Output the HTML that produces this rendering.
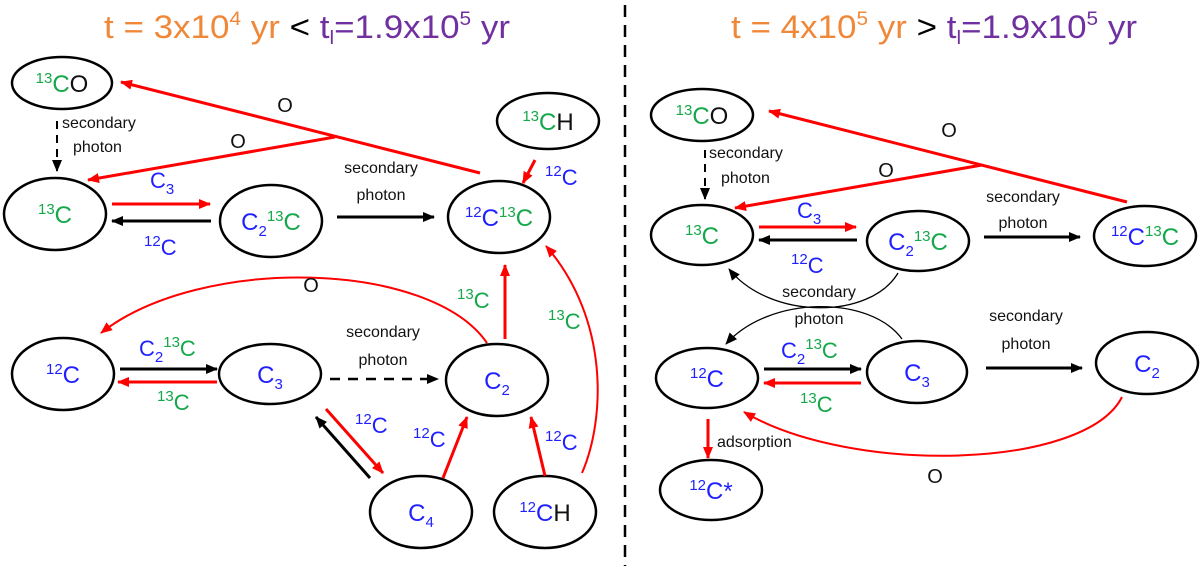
<!DOCTYPE html>
<html><head><meta charset="utf-8"><style>
html,body{margin:0;padding:0;background:#fff;}
svg{display:block;font-family:"Liberation Sans",sans-serif;}
.n{fill:none;stroke:#000;stroke-width:2.5}
.b{fill:#1f1fff}.g{fill:#14a84a}.k{fill:#111}
.lab{font-size:16px;fill:#111}
.nt{font-size:24px}
</style></head><body>
<svg width="1200" height="571" viewBox="0 0 1200 571" xmlns="http://www.w3.org/2000/svg">
<defs>
<marker id="ak" markerUnits="userSpaceOnUse" markerWidth="12" markerHeight="10" refX="11" refY="5" orient="auto"><path d="M0,0 L12,5 L0,10 Z" fill="#000"/></marker>
<marker id="ar" markerUnits="userSpaceOnUse" markerWidth="12" markerHeight="10" refX="11" refY="5" orient="auto"><path d="M0,0 L12,5 L0,10 Z" fill="#f00"/></marker>
</defs>

<!-- divider -->
<line x1="625" y1="5" x2="625" y2="566" stroke="#000" stroke-width="2.5" stroke-dasharray="12,8"/>

<!-- titles -->
<text x="104" y="38" font-size="32" textLength="406" lengthAdjust="spacingAndGlyphs"><tspan fill="#f0883a">t = 3x10</tspan><tspan fill="#f0883a" font-size="19" dy="-13">4</tspan><tspan fill="#f0883a" dy="13"> yr</tspan><tspan fill="#000"> &lt; </tspan><tspan fill="#7030a0">t</tspan><tspan fill="#7030a0" font-size="19" dy="6">l</tspan><tspan fill="#7030a0" dy="-6">=1.9x10</tspan><tspan fill="#7030a0" font-size="19" dy="-13">5</tspan><tspan fill="#7030a0" dy="13"> yr</tspan></text>
<text x="731" y="38" font-size="32" textLength="406" lengthAdjust="spacingAndGlyphs"><tspan fill="#f0883a">t = 4x10</tspan><tspan fill="#f0883a" font-size="19" dy="-13">5</tspan><tspan fill="#f0883a" dy="13"> yr</tspan><tspan fill="#000"> &gt; </tspan><tspan fill="#7030a0">t</tspan><tspan fill="#7030a0" font-size="19" dy="6">l</tspan><tspan fill="#7030a0" dy="-6">=1.9x10</tspan><tspan fill="#7030a0" font-size="19" dy="-13">5</tspan><tspan fill="#7030a0" dy="13"> yr</tspan></text>

<!-- ===== LEFT PANEL ===== -->
<ellipse class="n" cx="62" cy="83" rx="50" ry="26"/>
<ellipse class="n" cx="55" cy="214" rx="51" ry="36"/>
<ellipse class="n" cx="271" cy="221" rx="51" ry="36"/>
<ellipse class="n" cx="548" cy="121" rx="51" ry="28"/>
<ellipse class="n" cx="499" cy="217" rx="51" ry="36"/>
<ellipse class="n" cx="63" cy="374" rx="51" ry="36"/>
<ellipse class="n" cx="270" cy="374" rx="51" ry="30"/>
<ellipse class="n" cx="497" cy="380" rx="51" ry="36"/>
<ellipse class="n" cx="421" cy="512" rx="51" ry="36"/>
<ellipse class="n" cx="545" cy="512" rx="51" ry="36"/>

<text class="nt" x="62" y="92" text-anchor="middle"><tspan class="g" font-size="15" dy="-9">13</tspan><tspan class="g" dy="9">C</tspan><tspan class="k">O</tspan></text>
<text class="nt" x="55" y="223" text-anchor="middle"><tspan class="g" font-size="15" dy="-9">13</tspan><tspan class="g" dy="9">C</tspan></text>
<text class="nt" x="271" y="230" text-anchor="middle"><tspan class="b">C</tspan><tspan class="b" font-size="15" dy="6">2</tspan><tspan class="g" font-size="15" dy="-15">13</tspan><tspan class="g" dy="9">C</tspan></text>
<text class="nt" x="548" y="130" text-anchor="middle"><tspan class="g" font-size="15" dy="-9">13</tspan><tspan class="g" dy="9">C</tspan><tspan class="k">H</tspan></text>
<text class="nt" x="499" y="226" text-anchor="middle"><tspan class="b" font-size="15" dy="-9">12</tspan><tspan class="b" dy="9">C</tspan><tspan class="g" font-size="15" dy="-9">13</tspan><tspan class="g" dy="9">C</tspan></text>
<text class="nt" x="63" y="383" text-anchor="middle"><tspan class="b" font-size="15" dy="-9">12</tspan><tspan class="b" dy="9">C</tspan></text>
<text class="nt" x="270" y="383" text-anchor="middle"><tspan class="b">C</tspan><tspan class="b" font-size="15" dy="6">3</tspan></text>
<text class="nt" x="497" y="389" text-anchor="middle"><tspan class="b">C</tspan><tspan class="b" font-size="15" dy="6">2</tspan></text>
<text class="nt" x="421" y="521" text-anchor="middle"><tspan class="b">C</tspan><tspan class="b" font-size="15" dy="6">4</tspan></text>
<text class="nt" x="545" y="521" text-anchor="middle"><tspan class="b" font-size="15" dy="-9">12</tspan><tspan class="b" dy="9">C</tspan><tspan class="k">H</tspan></text>

<!-- left edges -->
<line x1="480" y1="173" x2="121" y2="82" stroke="#f00" stroke-width="3" marker-end="url(#ar)"/>
<line x1="335" y1="137" x2="88" y2="180" stroke="#f00" stroke-width="3" marker-end="url(#ar)"/>
<text x="285" y="112" font-size="20" text-anchor="middle" class="k">O</text>
<text x="238" y="148" font-size="20" text-anchor="middle" class="k">O</text>
<line x1="57" y1="121" x2="57" y2="171" stroke="#000" stroke-width="2" stroke-dasharray="8,6" marker-end="url(#ak)"/>
<text class="lab" x="62" y="128" font-size="15">secondary</text>
<text class="lab" x="73" y="152" font-size="15">photon</text>
<line x1="112" y1="204" x2="210" y2="204" stroke="#f00" stroke-width="3" marker-end="url(#ar)"/>
<text x="150" y="188" font-size="22" class="b">C<tspan font-size="15" dy="6">3</tspan></text>
<line x1="211" y1="221" x2="112" y2="221" stroke="#000" stroke-width="3" marker-end="url(#ak)"/>
<text x="144" y="255" font-size="22" class="b"><tspan font-size="15" dy="-9">12</tspan><tspan dy="9">C</tspan></text>
<line x1="337" y1="217" x2="434" y2="217" stroke="#000" stroke-width="3" marker-end="url(#ak)"/>
<text class="lab" x="381" y="173" font-size="18" text-anchor="middle">secondary</text>
<text class="lab" x="381" y="200" font-size="18" text-anchor="middle">photon</text>
<line x1="535" y1="160" x2="523" y2="183" stroke="#f00" stroke-width="3" marker-end="url(#ar)"/>
<text x="545" y="185" font-size="22" class="b"><tspan font-size="15" dy="-9">12</tspan><tspan dy="9">C</tspan></text>

<path d="M487,343 C430,260 200,255 101,333" fill="none" stroke="#f00" stroke-width="2" marker-end="url(#ar)"/>
<text x="311" y="292" font-size="20" text-anchor="middle" class="k">O</text>
<line x1="505" y1="339" x2="505" y2="265" stroke="#f00" stroke-width="3" marker-end="url(#ar)"/>
<text x="457" y="308" font-size="22" class="g"><tspan font-size="15" dy="-9">13</tspan><tspan dy="9">C</tspan></text>
<path d="M582,473 C605,420 610,320 546,246" fill="none" stroke="#f00" stroke-width="2" marker-end="url(#ar)"/>
<text x="548" y="329" font-size="22" class="g"><tspan font-size="15" dy="-9">13</tspan><tspan dy="9">C</tspan></text>

<line x1="120" y1="369" x2="217" y2="369" stroke="#000" stroke-width="3" marker-end="url(#ak)"/>
<text x="139" y="356" font-size="22" class="b">C<tspan font-size="15" dy="6">2</tspan><tspan class="g" font-size="15" dy="-15">13</tspan><tspan class="g" dy="9">C</tspan></text>
<line x1="217" y1="382" x2="118" y2="382" stroke="#f00" stroke-width="3" marker-end="url(#ar)"/>
<text x="157" y="410" font-size="22" class="g"><tspan font-size="15" dy="-9">13</tspan><tspan dy="9">C</tspan></text>
<line x1="330" y1="379" x2="438" y2="379" stroke="#000" stroke-width="2.5" stroke-dasharray="10,8" marker-end="url(#ak)"/>
<text class="lab" x="383" y="337" font-size="18" text-anchor="middle">secondary</text>
<text class="lab" x="383" y="365" font-size="18" text-anchor="middle">photon</text>

<line x1="370" y1="478" x2="316" y2="417" stroke="#000" stroke-width="3" marker-end="url(#ak)"/>
<line x1="326" y1="409" x2="383" y2="473" stroke="#f00" stroke-width="3" marker-end="url(#ar)"/>
<text x="355" y="433" font-size="22" class="b"><tspan font-size="15" dy="-9">12</tspan><tspan dy="9">C</tspan></text>
<line x1="443" y1="478" x2="467" y2="417" stroke="#f00" stroke-width="3" marker-end="url(#ar)"/>
<text x="413" y="447" font-size="22" class="b"><tspan font-size="15" dy="-9">12</tspan><tspan dy="9">C</tspan></text>
<line x1="545" y1="476" x2="531" y2="417" stroke="#f00" stroke-width="3" marker-end="url(#ar)"/>
<text x="545" y="450" font-size="22" class="b"><tspan font-size="15" dy="-9">12</tspan><tspan dy="9">C</tspan></text>

<!-- ===== RIGHT PANEL ===== -->
<ellipse class="n" cx="702" cy="115" rx="51" ry="26"/>
<ellipse class="n" cx="702" cy="235" rx="51" ry="30"/>
<ellipse class="n" cx="918" cy="241" rx="51" ry="30"/>
<ellipse class="n" cx="1145" cy="236" rx="51" ry="30"/>
<ellipse class="n" cx="707" cy="378" rx="51" ry="30"/>
<ellipse class="n" cx="917" cy="372" rx="50" ry="31"/>
<ellipse class="n" cx="1147" cy="363" rx="51" ry="31"/>
<ellipse class="n" cx="711" cy="490" rx="51" ry="30"/>

<text class="nt" x="702" y="124" text-anchor="middle"><tspan class="g" font-size="15" dy="-9">13</tspan><tspan class="g" dy="9">C</tspan><tspan class="k">O</tspan></text>
<text class="nt" x="702" y="244" text-anchor="middle"><tspan class="g" font-size="15" dy="-9">13</tspan><tspan class="g" dy="9">C</tspan></text>
<text class="nt" x="918" y="250" text-anchor="middle"><tspan class="b">C</tspan><tspan class="b" font-size="15" dy="6">2</tspan><tspan class="g" font-size="15" dy="-15">13</tspan><tspan class="g" dy="9">C</tspan></text>
<text class="nt" x="1145" y="245" text-anchor="middle"><tspan class="b" font-size="15" dy="-9">12</tspan><tspan class="b" dy="9">C</tspan><tspan class="g" font-size="15" dy="-9">13</tspan><tspan class="g" dy="9">C</tspan></text>
<text class="nt" x="707" y="387" text-anchor="middle"><tspan class="b" font-size="15" dy="-9">12</tspan><tspan class="b" dy="9">C</tspan></text>
<text class="nt" x="917" y="381" text-anchor="middle"><tspan class="b">C</tspan><tspan class="b" font-size="15" dy="6">3</tspan></text>
<text class="nt" x="1147" y="372" text-anchor="middle"><tspan class="b">C</tspan><tspan class="b" font-size="15" dy="6">2</tspan></text>
<text class="nt" x="711" y="499" text-anchor="middle"><tspan class="b" font-size="15" dy="-9">12</tspan><tspan class="b" dy="9">C*</tspan></text>

<line x1="1127" y1="202" x2="769" y2="111" stroke="#f00" stroke-width="3" marker-end="url(#ar)"/>
<line x1="982" y1="165" x2="735" y2="208" stroke="#f00" stroke-width="3" marker-end="url(#ar)"/>
<text x="949" y="137" font-size="20" text-anchor="middle" class="k">O</text>
<text x="886" y="177" font-size="20" text-anchor="middle" class="k">O</text>
<line x1="705" y1="150" x2="705" y2="199" stroke="#000" stroke-width="2" stroke-dasharray="8,6" marker-end="url(#ak)"/>
<text class="lab" x="709" y="158" font-size="15">secondary</text>
<text class="lab" x="721" y="183" font-size="15">photon</text>
<line x1="759" y1="227" x2="856" y2="227" stroke="#f00" stroke-width="3" marker-end="url(#ar)"/>
<text x="797" y="218" font-size="22" class="b">C<tspan font-size="15" dy="6">3</tspan></text>
<line x1="857" y1="240" x2="759" y2="240" stroke="#000" stroke-width="3" marker-end="url(#ak)"/>
<text x="791" y="273" font-size="22" class="b"><tspan font-size="15" dy="-9">12</tspan><tspan dy="9">C</tspan></text>
<line x1="984" y1="237" x2="1080" y2="237" stroke="#000" stroke-width="3" marker-end="url(#ak)"/>
<text class="lab" x="1023" y="202" font-size="18" text-anchor="middle">secondary</text>
<text class="lab" x="1023" y="228" font-size="18" text-anchor="middle">photon</text>

<path d="M898,273 C870,320 770,320 729,269" fill="none" stroke="#000" stroke-width="1.3" marker-end="url(#ak)"/>
<path d="M902,339 C870,295 770,295 726,344" fill="none" stroke="#000" stroke-width="1.3" marker-end="url(#ak)"/>
<text class="lab" x="819" y="297" font-size="18" text-anchor="middle">secondary</text>
<text class="lab" x="819" y="324" font-size="18" text-anchor="middle">photon</text>

<line x1="764" y1="369" x2="861" y2="369" stroke="#000" stroke-width="3" marker-end="url(#ak)"/>
<text x="781" y="358" font-size="22" class="b">C<tspan font-size="15" dy="6">2</tspan><tspan class="g" font-size="15" dy="-15">13</tspan><tspan class="g" dy="9">C</tspan></text>
<line x1="861" y1="383" x2="764" y2="383" stroke="#f00" stroke-width="3" marker-end="url(#ar)"/>
<text x="800" y="412" font-size="22" class="g"><tspan font-size="15" dy="-9">13</tspan><tspan dy="9">C</tspan></text>
<line x1="986" y1="368" x2="1082" y2="368" stroke="#000" stroke-width="3" marker-end="url(#ak)"/>
<text class="lab" x="1026" y="321" font-size="18" text-anchor="middle">secondary</text>
<text class="lab" x="1026" y="349" font-size="18" text-anchor="middle">photon</text>

<path d="M1122,397 C1085,470 850,475 744,412" fill="none" stroke="#f00" stroke-width="2" marker-end="url(#ar)"/>
<text x="935" y="483" font-size="20" text-anchor="middle" class="k">O</text>
<line x1="708" y1="419" x2="708" y2="458" stroke="#f00" stroke-width="3" marker-end="url(#ar)"/>
<text class="lab" x="717" y="447" font-size="15">adsorption</text>
</svg>
</body></html>
